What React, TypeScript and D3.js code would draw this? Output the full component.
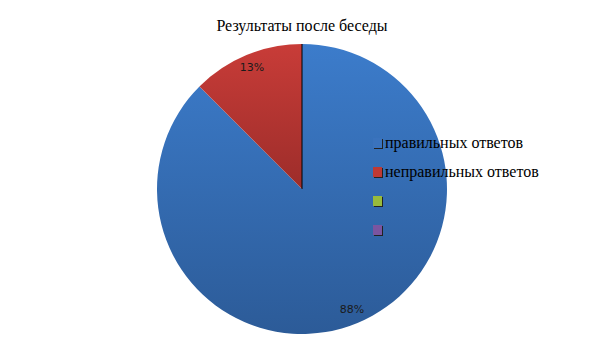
import React from "react";
import * as d3 from "d3";

const categories = ["правильных ответов", "неправильных ответов", "", ""];
const values = [7, 1];
const labels = ["88%", "13%"];
const title = "Результаты после беседы";

const W = 605, H = 340;
const cx = 302, cy = 189, R = 145;

const gradients = [
  ["#3c7ccb", "#2c5b98"],
  ["#c83c38", "#9d2d2a"],
];
const legendColors = ["#3a73bd", "#be3935", "#98bb3c", "#7a55a0"];

export default function App() {
  const pie = d3.pie<number>().sort(null).value((d) => d)(values);
  const arc = d3.arc<d3.PieArcDatum<number>>().innerRadius(0).outerRadius(R);
  const labelArc = d3.arc<d3.PieArcDatum<number>>().innerRadius(R * 0.9).outerRadius(R * 0.9);
  const legendX = 373, legendY0 = 138, legendStep = 29;
  return (
    <svg width={W} height={H} style={{ position: "absolute", left: 0, top: 0 }}>
      <defs>
        {gradients.map((g, i) => (
          <linearGradient key={i} id={`g${i}`} x1="0" y1="0" x2="0" y2="1">
            <stop offset="0" stopColor={g[0]} />
            <stop offset="1" stopColor={g[1]} />
          </linearGradient>
        ))}
      </defs>
      <rect width={W} height={H} fill="#fff" />
      <text x={302} y={31} textAnchor="middle" fontFamily="Liberation Serif" fontSize={16} fill="#000">
        {title}
      </text>
      <g transform={`translate(${cx},${cy})`}>
        {pie.map((p, i) => (
          <path key={i} d={arc(p) || ""} fill={`url(#g${i})`} />
        ))}
        <line x1={0} y1={0} x2={0} y2={-R} stroke="#000" strokeWidth={1} />
        {pie.map((p, i) => {
          const [x, y] = labelArc.centroid(p);
          return (
            <text key={i} x={x} y={y} textAnchor="middle" dominantBaseline="middle"
              fontFamily="DejaVu Sans" fontSize={11} fill="#1a1a1a">
              {labels[i]}
            </text>
          );
        })}
      </g>
      {categories.map((c, i) => {
        const y = legendY0 + i * legendStep;
        return (
          <g key={i}>
            <rect x={legendX + 1} y={y + 1} width={9} height={10} fill="#222" />
            <rect x={legendX} y={y} width={9} height={10} fill={legendColors[i]} />
            <text x={385} y={y + 10} fontFamily="Liberation Serif" fontSize={16} fill="#000">
              {c}
            </text>
          </g>
        );
      })}
    </svg>
  );
}
